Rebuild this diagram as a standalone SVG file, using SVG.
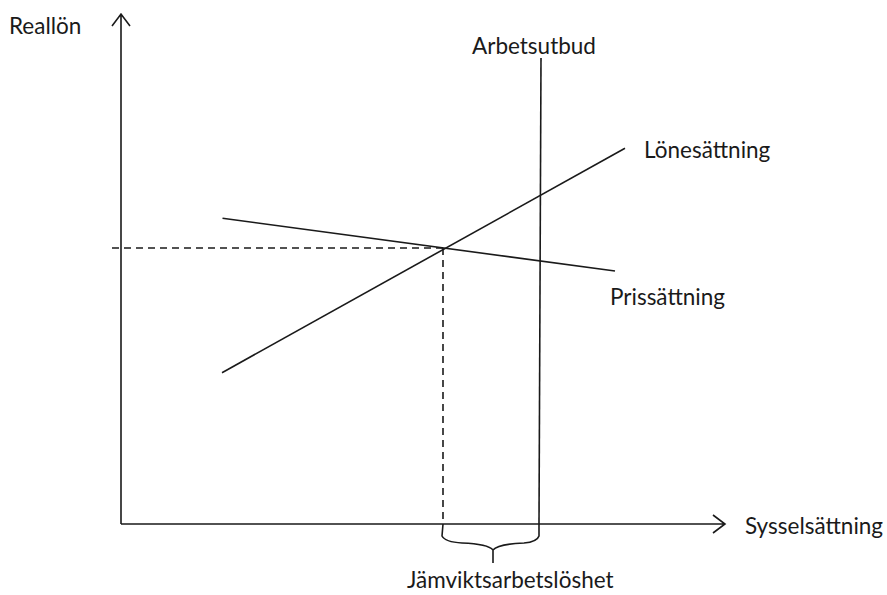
<svg xmlns="http://www.w3.org/2000/svg" width="887" height="595" viewBox="0 0 887 595">
<style>
.ln{stroke:#1a1a1a;stroke-width:1.6;fill:none}
.ds{stroke:#1a1a1a;stroke-width:1.6;fill:none;stroke-dasharray:7,5}
.t{font-family:Lato,"Open Sans","Liberation Sans",sans-serif;font-size:22.5px;fill:#1a1a1a}
</style>
<rect width="887" height="595" fill="#fff"/>
<g id="axes">
<path class="ln" d="M121,524 V14 M112,26 L121,14 L130,26"/>
<path class="ln" d="M121,524 H725 M713,515 L725,524 L713,533"/>
</g>
<g id="connectors">
<path class="ln" d="M541,58 L539,524"/>
<path class="ln" d="M222,372.7 L625,148.3"/>
<path class="ln" d="M222.5,218.3 L615,271"/>
<path class="ds" d="M112,248 H443"/>
<path class="ds" d="M443,248 V524"/>
<path class="ln" d="M443,524 L442,536 Q445,542 462,543 Q488,544 493,550 Q498,544 524,543 Q537,542 539,536 L539,524 M493,550 V563"/>
</g>
<g id="labels">
<text class="t" x="9" y="34">Reallön</text>
<text class="t" x="472" y="54">Arbetsutbud</text>
<text class="t" x="644" y="158">Lönesättning</text>
<text class="t" x="610" y="305">Prissättning</text>
<text class="t" x="745" y="534">Sysselsättning</text>
<text class="t" x="407" y="588">Jämviktsarbetslöshet</text>
</g>
</svg>
